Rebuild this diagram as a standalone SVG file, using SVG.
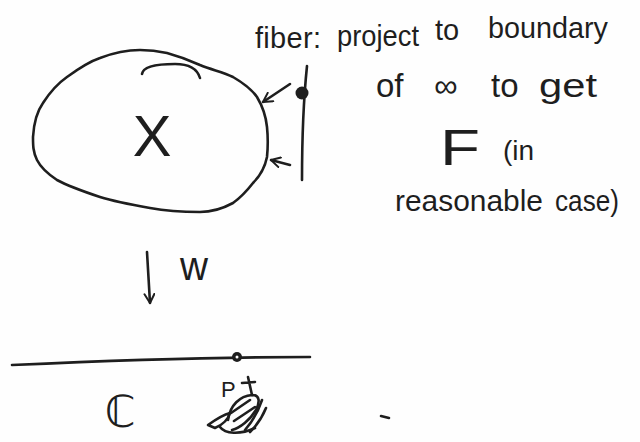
<svg xmlns="http://www.w3.org/2000/svg" width="640" height="442" viewBox="0 0 640 442">
<style>
.s{fill:none;stroke:#1e1e1e;stroke-width:2.6;stroke-linecap:round;stroke-linejoin:round}
.t{font-family:"Liberation Sans","DejaVu Sans",sans-serif;fill:#1e1e1e}
</style>
<defs>
<marker id="ah" viewBox="0 0 12 12" refX="10" refY="6" markerWidth="12" markerHeight="12" markerUnits="userSpaceOnUse" orient="auto">
<path d="M1,1 L10,6 L1,11" fill="none" stroke="#1e1e1e" stroke-width="2" stroke-linecap="round" stroke-linejoin="round"/>
</marker>
</defs>
<rect width="640" height="442" fill="#fefefe"/>
<g id="space-X">
<path class="s" d="M33,137 C34,120 38,110 43,103 C50,92 57,84 67,77 C78,69 88,62 100,58 C113,53 127,50 140,50 C150,50 158,51 167,53 C178,56 189,60 200,65 C212,70 223,72 233,77 C245,84 252,90 257,97 C263,107 266,117 267,127 C268,137 268,147 267,157 C265,167 260,176 253,183 C246,192 240,198 233,203 C222,209 211,212 200,212 C183,212 166,211 150,208 C133,205 116,202 100,197 C85,192 70,187 57,180 C48,174 41,168 37,160 C33,152 33,145 33,137 Z"/>
<path class="s" d="M142,74 C143,66 160,64 175,64 C188,64 197,68 200,78"/>
<text class="t" x="152" y="156" font-size="58" text-anchor="middle">X</text>
</g>
<g id="fiber-line">
<path class="s" d="M307,66 C304,95 302,130 302,180"/>
<circle cx="302" cy="93" r="6.5" fill="#1e1e1e"/>
</g>
<g id="base-C">
<path class="s" d="M12,365 C100,361 200,357 310,357"/>
<circle cx="237" cy="357" r="5" fill="#1e1e1e"/>
<circle cx="237" cy="357" r="1.5" fill="#fefefe"/>
<text class="t" x="120" y="427" font-size="44" text-anchor="middle" font-family="DejaVu Sans">ℂ</text>
</g>
<g id="point-p">
<text class="t" x="221" y="397" font-size="22">P</text>
<path class="s" stroke-width="2" d="M242,383 L255,382 M248,377 L252,395"/>
<g class="s" stroke-width="2.2">
<path d="M228,420 C230,405 240,396 252,395 C260,395 260,402 256,410 C250,420 240,428 232,430"/>
<path d="M208,425 C215,420 222,415 230,413 C228,420 222,425 215,428 Z"/>
<path d="M262,400 C258,412 252,422 245,430"/>
<path d="M266,408 C262,418 256,426 250,432"/>
<path d="M220,427 C225,434 240,435 255,428"/>
<path d="M231,413 L250,400 M234,421 L255,407"/>
</g>
<path class="s" d="M381,416 L389,418"/>
</g>
<g id="label-text">
<text class="t" font-size="29"><tspan x="255" y="48" textLength="66" lengthAdjust="spacing">fiber:</tspan><tspan x="337" y="46" textLength="82" lengthAdjust="spacingAndGlyphs">project</tspan><tspan x="435" y="40">to</tspan><tspan x="488" y="38" textLength="120" lengthAdjust="spacingAndGlyphs">boundary</tspan></text>
<text class="t" y="97" font-size="33"><tspan x="376">of</tspan><tspan x="434">∞</tspan><tspan x="491">to</tspan><tspan x="539" textLength="58" lengthAdjust="spacingAndGlyphs">get</tspan></text>
<text class="t" y="165"><tspan x="440" font-size="50" textLength="40" lengthAdjust="spacingAndGlyphs">F</tspan><tspan x="503" y="160" font-size="28">(in</tspan></text>
<text class="t" y="211" font-size="29"><tspan x="395" textLength="148" lengthAdjust="spacingAndGlyphs">reasonable</tspan><tspan x="555" textLength="64" lengthAdjust="spacingAndGlyphs">case)</tspan></text>
</g>
<g id="connectors">
<path class="s" d="M290,84 L263,102" marker-end="url(#ah)"/>
<path class="s" d="M290,165 L271,160" marker-end="url(#ah)"/>
<path class="s" d="M147,252 L150,303" marker-end="url(#ah)"/>
<text class="t" x="180" y="280" font-size="40" textLength="28" lengthAdjust="spacingAndGlyphs">w</text>
</g>
</svg>
